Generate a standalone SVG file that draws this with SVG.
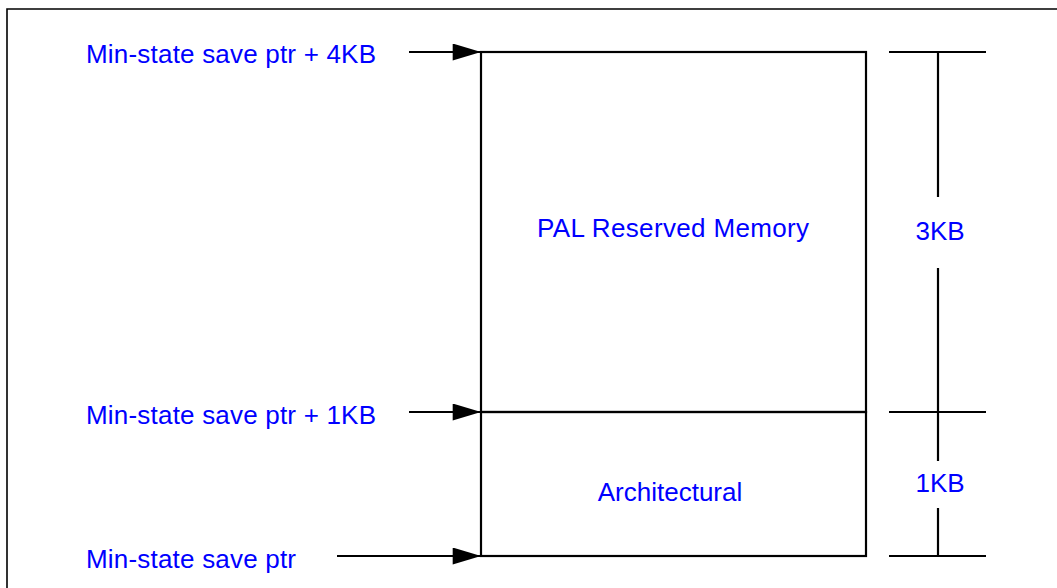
<svg xmlns="http://www.w3.org/2000/svg" width="1057" height="588" viewBox="0 0 1057 588">
<defs>
<style>
.t{font-family:"Liberation Sans",Arial,sans-serif;font-size:26px;fill:#0000FF}
.l{stroke:#000;stroke-width:2.2;fill:none}
.frame{stroke:#000;stroke-width:1.6;fill:none}
</style>
<marker id="ah" viewBox="0 0 30 18" refX="30" refY="9" markerWidth="30" markerHeight="17" markerUnits="userSpaceOnUse" orient="auto">
<path d="M0,0 L30,9 L0,18 Z" fill="#000"/>
</marker>
</defs>
<rect width="1057" height="588" fill="#fff"/>
<path class="frame" d="M7,588 V9 H1057"/>
<g id="box-pal">
<rect class="l" x="481" y="52" width="385" height="360"/>
<text class="t" x="673" y="237" text-anchor="middle" textLength="272">PAL Reserved Memory</text>
</g>
<g id="box-arch">
<rect class="l" x="481" y="412" width="385" height="144"/>
<text class="t" x="670" y="501" text-anchor="middle">Architectural</text>
</g>
<g id="label-4kb">
<text class="t" x="86" y="63" textLength="290">Min-state save ptr + 4KB</text>
</g>
<g id="label-1kb">
<text class="t" x="86" y="424" textLength="290">Min-state save ptr + 1KB</text>
</g>
<g id="label-ptr">
<text class="t" x="86" y="568" textLength="210">Min-state save ptr</text>
</g>
<g id="dim-3kb">
<text class="t" x="940" y="240" text-anchor="middle">3KB</text>
</g>
<g id="dim-1kb">
<text class="t" x="940" y="492" text-anchor="middle">1KB</text>
</g>
<g id="connectors">
<line class="l" x1="409" y1="52" x2="481" y2="52" marker-end="url(#ah)"/>
<line class="l" x1="409" y1="412" x2="481" y2="412" marker-end="url(#ah)"/>
<line class="l" x1="337" y1="556" x2="481" y2="556" marker-end="url(#ah)"/>
<line class="l" x1="889" y1="52" x2="986" y2="52"/>
<line class="l" x1="889" y1="412" x2="986" y2="412"/>
<line class="l" x1="889" y1="556" x2="986" y2="556"/>
<line class="l" x1="938" y1="52" x2="938" y2="197"/>
<line class="l" x1="938" y1="268" x2="938" y2="412"/>
<line class="l" x1="938" y1="412" x2="938" y2="461"/>
<line class="l" x1="938" y1="508" x2="938" y2="556"/>
</g>
</svg>
